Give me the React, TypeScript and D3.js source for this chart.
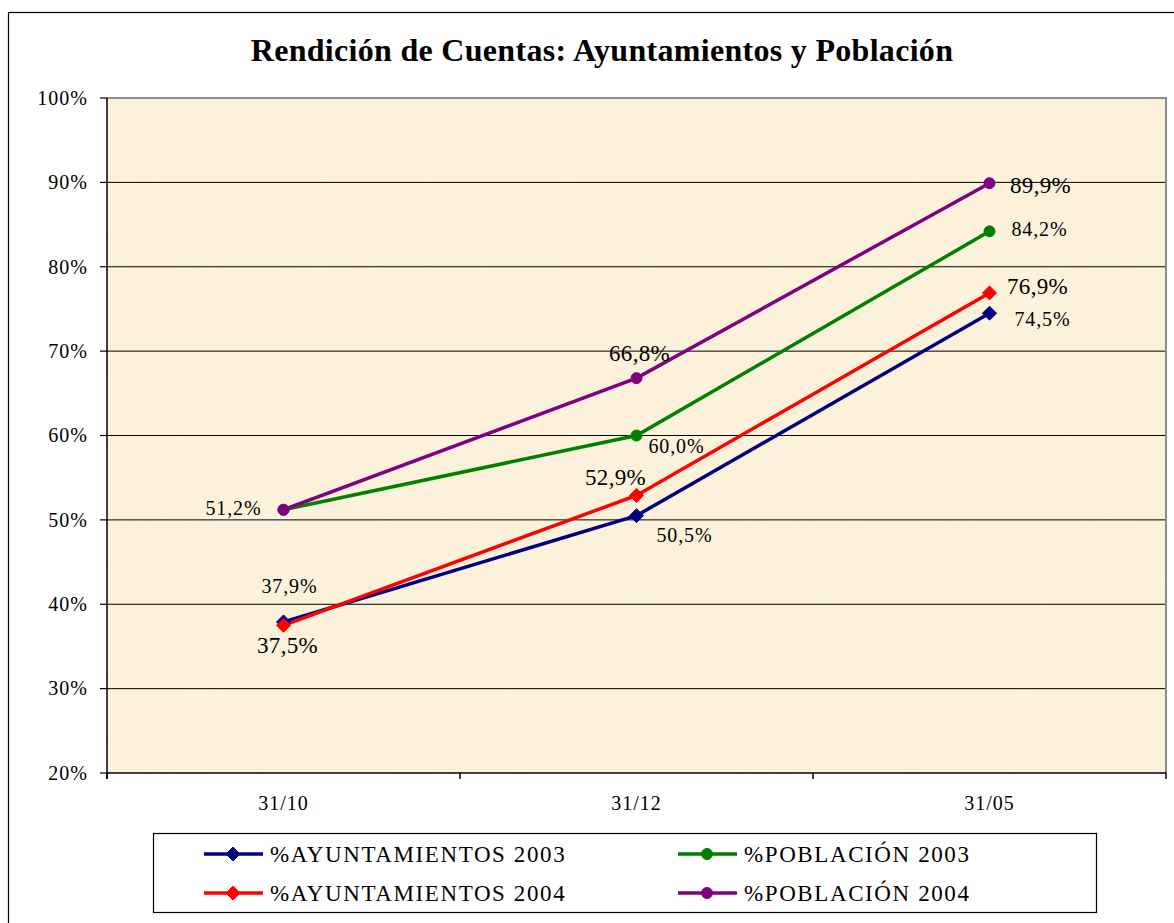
import React from "react";
import * as d3 from "d3";

const categories = ["31/10", "31/12", "31/05"];
const ayunt2003 = [37.9, 50.5, 74.5];
const ayunt2004 = [37.5, 52.9, 76.9];
const pobl2003 = [51.2, 60.0, 84.2];
const pobl2004 = [51.2, 66.8, 89.9];
const yTicks = [20, 30, 40, 50, 60, 70, 80, 90, 100];

type Series = {
  name: string;
  values: number[];
  color: string;
  marker: "diamond" | "circle";
  labels: ({ dx: number; dy: number; big: boolean } | null)[];
};

const series: Series[] = [
  {
    name: "%AYUNTAMIENTOS 2003",
    values: ayunt2003,
    color: "#000080",
    marker: "diamond",
    labels: [
      { dx: 6, dy: -29, big: false },
      { dx: 48, dy: 26, big: false },
      { dx: 53, dy: 13, big: false },
    ],
  },
  {
    name: "%AYUNTAMIENTOS 2004",
    values: ayunt2004,
    color: "#FF0000",
    marker: "diamond",
    labels: [
      { dx: 4, dy: 28, big: true },
      { dx: -21, dy: -10, big: true },
      { dx: 48, dy: 1, big: true },
    ],
  },
  {
    name: "%POBLACIÓN 2003",
    values: pobl2003,
    color: "#008000",
    marker: "circle",
    labels: [
      { dx: -50, dy: 5, big: false },
      { dx: 40, dy: 17, big: false },
      { dx: 50, dy: 5, big: false },
    ],
  },
  {
    name: "%POBLACIÓN 2004",
    values: pobl2004,
    color: "#800080",
    marker: "circle",
    labels: [null, { dx: 3, dy: -17, big: true }, { dx: 51, dy: 10, big: true }],
  },
];

// legend reading order: row 1 = A2003, P2003; row 2 = A2004, P2004
const legendOrder = [0, 2, 1, 3];

const FONT = "'Liberation Serif', 'Times New Roman', Times, serif";

const plot = { left: 107, right: 1166, top: 98, bottom: 773 };

function Marker({ type, x, y, color }: { type: string; x: number; y: number; color: string }) {
  if (type === "diamond") {
    const s = 7;
    return (
      <path
        d={`M${x},${y - s}L${x + s},${y}L${x},${y + s}L${x - s},${y}Z`}
        fill={color}
        stroke={color}
        strokeWidth={1}
      />
    );
  }
  return <circle cx={x} cy={y} r={5.5} fill={color} stroke={color} strokeWidth={1} />;
}

export default function App() {
  const x = d3
    .scaleBand<string>()
    .domain(categories)
    .range([plot.left, plot.right])
    .paddingInner(0)
    .paddingOuter(0);
  const y = d3.scaleLinear().domain([20, 100]).range([plot.bottom, plot.top]);
  const cx = (c: string) => (x(c) as number) + x.bandwidth() / 2;

  const line = d3
    .line<number>()
    .x((_, i) => cx(categories[i]))
    .y((v) => y(v));

  const fmt = (v: number) => v.toFixed(1).replace(".", ",") + "%";
  const boundaries = [plot.left, ...categories.map((c) => (x(c) as number) + x.bandwidth())];

  const legendRows = [854, 893];
  const legendCols = [204, 678];

  return (
    <svg
      width={1174}
      height={923}
      style={{ position: "absolute", left: 0, top: 0, display: "block", background: "#fff", fontFamily: FONT }}
    >
      <defs>
        <filter id="parch" x="0" y="0" width="100%" height="100%">
          <feTurbulence type="fractalNoise" baseFrequency="0.012 0.02" numOctaves={3} seed={7} result="n" />
          <feColorMatrix
            in="n"
            type="matrix"
            values="0 0 0 0 0.99  0 0 0 0 0.93  0 0 0 0 0.80  0 0 0 -0.9 0.55"
          />
        </filter>
      </defs>
      {/* outer chart border */}
      <rect x={8.5} y={12.5} width={1180} height={930} fill="#fff" stroke="#000" strokeWidth={1.2} />

      {/* title */}
      <text x={602} y={61} textAnchor="middle" fontSize={32} fontWeight="bold" letterSpacing={0.3} fill="#000">
        Rendición de Cuentas: Ayuntamientos y Población
      </text>

      {/* plot area */}
      <rect
        x={plot.left}
        y={plot.top}
        width={plot.right - plot.left}
        height={plot.bottom - plot.top}
        fill="#FCF1DA"
      />
      <rect
        x={plot.left}
        y={plot.top}
        width={plot.right - plot.left}
        height={plot.bottom - plot.top}
        filter="url(#parch)"
        opacity={0.5}
      />
      {/* gridlines */}
      {yTicks.slice(1, -1).map((t) => (
        <line key={t} x1={plot.left} x2={plot.right} y1={y(t)} y2={y(t)} stroke="#000" strokeWidth={1} />
      ))}
      {/* plot border gray */}
      <path
        d={`M${plot.left},${plot.top}H${plot.right}V${plot.bottom}`}
        fill="none"
        stroke="#8c8c8c"
        strokeWidth={2}
      />
      {/* axes */}
      <line x1={plot.left} x2={plot.left} y1={plot.top} y2={plot.bottom + 6} stroke="#000" strokeWidth={1.5} />
      <line x1={plot.left} x2={plot.right} y1={plot.bottom} y2={plot.bottom} stroke="#000" strokeWidth={1.5} />
      {yTicks.map((t) => (
        <g key={t}>
          <line x1={plot.left - 7} x2={plot.left} y1={y(t)} y2={y(t)} stroke="#000" strokeWidth={1.2} />
          <text x={88} y={y(t)} dy="0.34em" textAnchor="end" fontSize={20} letterSpacing={1} fill="#000">
            {t}%
          </text>
        </g>
      ))}
      {boundaries.map((b, i) => (
        <line key={i} x1={b} x2={b} y1={plot.bottom} y2={plot.bottom + 6} stroke="#000" strokeWidth={1.5} />
      ))}
      {categories.map((c) => (
        <text key={c} x={cx(c)} y={810} textAnchor="middle" fontSize={20} letterSpacing={1} fill="#000">
          {c}
        </text>
      ))}

      {/* series lines */}
      {series.map((s) => (
        <path key={s.name} d={line(s.values) as string} fill="none" stroke={s.color} strokeWidth={3.5} />
      ))}
      {series.map((s) =>
        s.values.map((v, i) => (
          <Marker key={s.name + i} type={s.marker} x={cx(categories[i])} y={y(v)} color={s.color} />
        ))
      )}
      {/* data labels */}
      {series.map((s) =>
        s.values.map((v, i) => {
          const l = s.labels[i];
          if (!l) return null;
          return (
            <text
              key={s.name + "l" + i}
              x={cx(categories[i]) + l.dx}
              y={y(v) + l.dy}
              textAnchor="middle"
              fontSize={l.big ? 23 : 20}
              letterSpacing={l.big ? 0.3 : 0.9}
              fill="#000"
            >
              {fmt(v)}
            </text>
          );
        })
      )}

      {/* legend */}
      <rect x={153.5} y={833.5} width={943} height={79} fill="#fff" stroke="#000" strokeWidth={1.2} />
      {legendOrder.map((si, k) => {
        const s = series[si];
        const row = legendRows[Math.floor(k / 2)];
        const col = legendCols[k % 2];
        return (
          <g key={s.name}>
            <line x1={col} x2={col + 59} y1={row} y2={row} stroke={s.color} strokeWidth={3.5} />
            <Marker type={s.marker} x={col + 29} y={row} color={s.color} />
            <text x={col + 66} y={row} dy="0.34em" fontSize={23} letterSpacing={1.6} fill="#000">
              {s.name}
            </text>
          </g>
        );
      })}
    </svg>
  );
}
